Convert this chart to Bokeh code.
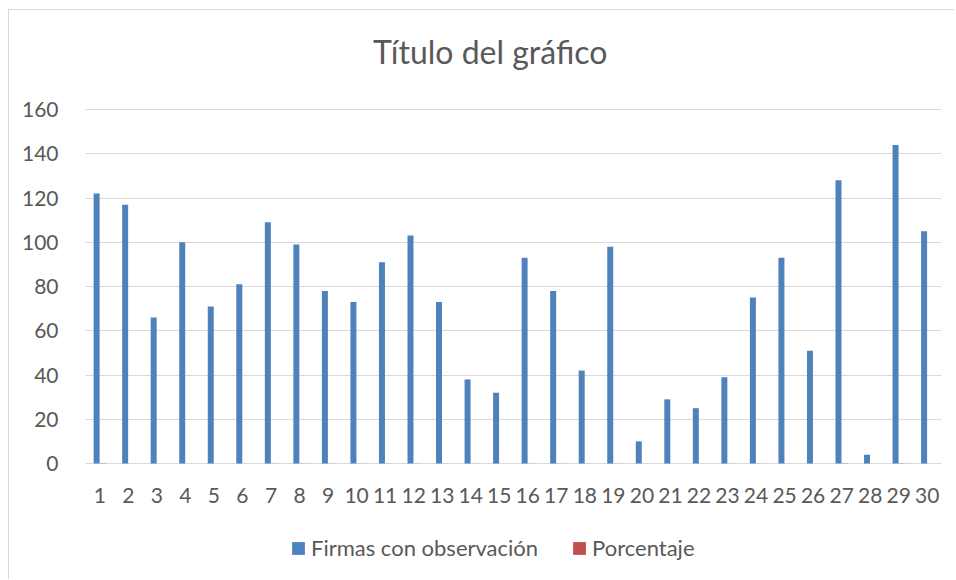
from bokeh.plotting import figure
from bokeh.models import ColumnDataSource, Legend, LegendItem, FixedTicker, Range1d
from bokeh.core.properties import value
from bokeh.transform import dodge
from bokeh.embed import file_html
from bokeh.resources import INLINE

categories = list(range(1, 31))
cat_labels = [str(c) for c in categories]
firmas = [122, 117, 66, 100, 71, 81, 109, 99, 78, 73,
          91, 103, 73, 38, 32, 93, 78, 42, 98, 10,
          29, 25, 39, 75, 93, 51, 128, 4, 144, 105]
porcentaje = [0.06, 0.05, 0.03, 0.05, 0.03, 0.04, 0.05, 0.05, 0.04, 0.03,
              0.04, 0.05, 0.03, 0.02, 0.01, 0.04, 0.04, 0.02, 0.04, 0.0,
              0.01, 0.01, 0.02, 0.03, 0.04, 0.02, 0.06, 0.0, 0.07, 0.05]
y_ticks = [0, 20, 40, 60, 80, 100, 120, 140, 160]
title_text = "Título del gráfico"

FONT = "Lato"
TXT = "#595959"
GRID = "#d9d9d9"

# layout (pixels inside the figure; figure content starts at page (9, 10))
FIG_W, FIG_H = 945, 569
FR_L, FR_W = 76, 856
PX_PER_UNIT = 354 / 160.0
Y0_PX = 453            # pixel row of value 0 (from figure top)
y_max = Y0_PX / PX_PER_UNIT
y_min = -(FIG_H - Y0_PX) / PX_PER_UNIT
PX_PER_CAT = FR_W / 30.0

def xd(px):
    return 0.5 + (px - FR_L) / PX_PER_CAT

def yd(py):
    return (Y0_PX - py) / PX_PER_UNIT

src = ColumnDataSource(dict(x=categories, firmas=firmas, porcentaje=porcentaje,
                            lab=cat_labels, laby=[yd(484.5)] * len(categories)))

p = figure(frame_width=FR_W, frame_height=FIG_H, output_backend="svg", toolbar_location=None,
           x_range=Range1d(0.5, 30.5), y_range=Range1d(y_min, y_max),
           x_axis_location=None,
           min_border_left=FR_L, min_border_right=FIG_W - FR_L - FR_W,
           min_border_top=0, min_border_bottom=0)
p.outline_line_color = None
p.background_fill_color = "white"
p.border_fill_color = "white"
p.styles = {"border-left": "1px solid #d9d9d9", "border-top": "1px solid #d9d9d9",
            "margin-left": "8px", "margin-top": "9px"}

r1 = p.vbar(x=dodge("x", -0.11, range=p.x_range), top="firmas", width=0.21, source=src,
            fill_color="#4F81BD", line_color=None)
r2 = p.vbar(x=dodge("x", 0.11, range=p.x_range), top="porcentaje", width=0.21, source=src,
            fill_color="#C0504D", line_color=None)

# category labels
p.text(x="x", y="laby", text="lab", source=src, text_align="center", text_baseline="middle",
       text_font=value(FONT), text_font_size="21px", text_color=TXT)

# title
p.text(x=[xd(480.7)], y=[yd(40.5)], text=[title_text], text_align="center",
       text_baseline="middle", text_font=value(FONT), text_font_size="32px", text_color=TXT)

p.yaxis.ticker = FixedTicker(ticks=y_ticks)
ax = p.yaxis[0]
ax.major_label_text_font = FONT
ax.major_label_text_font_size = "21px"
ax.major_label_text_color = TXT
ax.major_tick_line_color = None
ax.minor_tick_line_color = None
ax.axis_line_color = None
ax.major_label_standoff = 21
p.xgrid.grid_line_color = None
p.ygrid.grid_line_color = GRID
p.ygrid.ticker = FixedTicker(ticks=y_ticks)

legend = Legend(items=[LegendItem(label="Firmas con observación", renderers=[r1]),
                       LegendItem(label="Porcentaje", renderers=[r2])],
                orientation="horizontal", location=(205, 18),
                label_text_font=FONT, label_text_font_size="22px", label_text_color=TXT,
                border_line_color=None, background_fill_alpha=0,
                glyph_width=16, glyph_height=16, label_standoff=5, spacing=33,
                margin=0, padding=0)
p.add_layout(legend, "center")

open("out.html", "w").write(file_html(p, INLINE))
